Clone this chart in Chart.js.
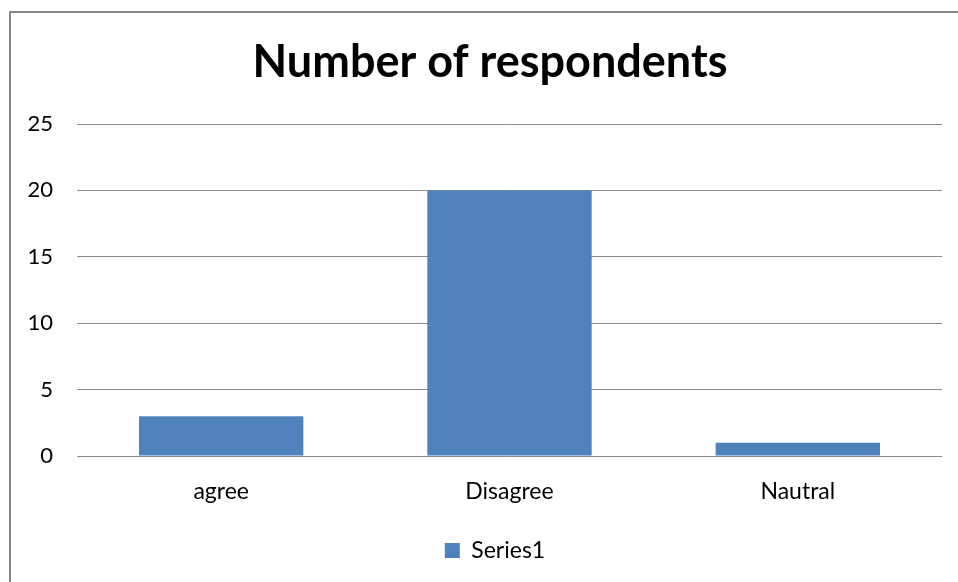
<!DOCTYPE html>
<html>
<head>
<meta charset="utf-8">
<script src="https://cdn.jsdelivr.net/npm/chart.js@4/dist/chart.umd.min.js"></script>
<style>
  html, body { margin: 0; padding: 0; background: #fff; overflow: hidden; }
  #wrap { position: relative; width: 958px; height: 582px; }
  #frame { position: absolute; left: 9px; top: 11px; width: 1000px; height: 600px; border-left: 2px solid #878787; border-top: 2px solid #878787; pointer-events: none; }
  canvas { position: absolute; left: 0; top: 0; }
</style>
</head>
<body>
<div id="wrap">
  <canvas id="chart" width="958" height="582"></canvas>
  <div id="frame"></div>
</div>
<script>
const categories = ['agree', 'Disagree', 'Nautral'];
const series1 = [3, 20, 1];
const yTicks = [0, 5, 10, 15, 20, 25];

const FONT = 'Lato, "Open Sans", sans-serif';
const gridGrey = '#8a8a8a';

// title and legend are centred on the whole frame, which runs past the plot on the right
const frameCentre = {
  id: 'frameCentre',
  afterLayout(chart) {
    chart.titleBlock.left = 38;
    chart.legend.left += 48;
  },
};

new Chart(document.getElementById('chart'), {
  type: 'bar',
  data: {
    labels: categories,
    datasets: [{
      label: 'Series1',
      data: series1,
      backgroundColor: '#4f81bd',
      borderWidth: 0,
      barPercentage: 0.57,
      categoryPercentage: 1,
    }],
  },
  options: {
    responsive: false,
    animation: false,
    layout: { padding: { left: 0, right: 16, top: 0, bottom: 10 } },
    plugins: {
      title: {
        display: true,
        text: 'Number of respondents',
        color: '#000',
        font: { family: FONT, size: 45, weight: 'bold' },
        padding: { top: 35, bottom: 35 },
      },
      legend: {
        position: 'bottom',
        labels: {
          color: '#000',
          font: { family: FONT, size: 23 },
          boxWidth: 15, boxHeight: 15,
          padding: 10,
        },
      },
      tooltip: { enabled: false },
    },
    scales: {
      x: {
        grid: { display: false },
        border: { display: false },
        ticks: { color: '#000', font: { family: FONT, size: 23 }, padding: 14 },
        afterFit: s => { s.height = 73; },
      },
      y: {
        min: 0, max: 25,
        afterBuildTicks: s => { s.ticks = yTicks.map(v => ({ value: v })); },
        grid: { color: gridGrey, lineWidth: 1, drawTicks: false },
        border: { display: false },
        ticks: { color: '#000', font: { family: FONT, size: 22 }, padding: 24 },
        afterFit: s => { s.width = 77; },
      },
    },
  },
  plugins: [frameCentre],
});
</script>
</body>
</html>
